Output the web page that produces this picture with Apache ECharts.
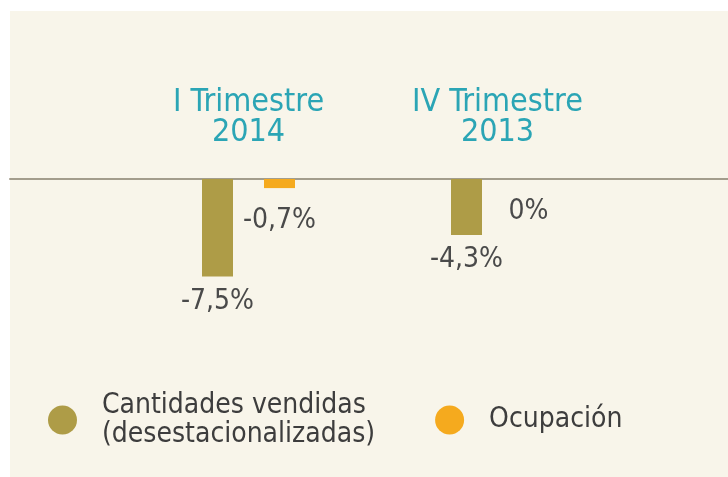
<!DOCTYPE html>
<html>
<head>
<meta charset="utf-8">
<script src="https://cdn.jsdelivr.net/npm/echarts@6/dist/echarts.min.js"></script>
<style>
	html, body { margin: 0; padding: 0; background: #ffffff; }
	#panel { position: absolute; left: 10px; top: 11px; right: 0; bottom: 0; background: #f8f5ea; }
	#chart { position: absolute; left: 0; top: 0; width: 728px; height: 477px; }
</style>
</head>
<body>
<div id="panel"></div>
<div id="chart"></div>
<script>
const periods = ['I Trimestre\n2014', 'IV Trimestre\n2013'];
const seriesNames = ['Cantidades vendidas (desestacionalizadas)', 'Ocupación'];
const cantidades = [-7.5, -4.3];
const ocupacion = [-0.7, 0];

const FONT = "'DejaVu Sans Condensed', 'Liberation Sans Narrow', 'Roboto', sans-serif";

function formatPct(v) {
	if (v === 0) return '0%';
	return v.toFixed(1).replace('.', ',') + '%';
}

function renderChart(chartId) {
	const chart = echarts.init(document.getElementById(chartId), null, { renderer: 'canvas' });

	const labelStyle = {
		show: true,
		position: 'bottom',
		fontFamily: FONT,
		fontSize: 28,
		color: '#4a4a4a',
		formatter: (p) => formatPct(p.value)
	};

	chart.setOption({
		backgroundColor: 'transparent',
		animation: false,
		textStyle: { fontFamily: FONT },
		grid: [
			{ left: 124, right: 106, top: 179, height: 104 },
			// full-width baseline along the panel
			{ left: 10, right: 0, top: 179, height: 1 }
		],
		legend: {
			left: 43,
			top: 386,
			icon: 'circle',
			itemWidth: 29,
			itemHeight: 29,
			itemGap: 60,
			formatter: (name) => name.replace(' (', '\n('),
			textStyle: {
				fontFamily: FONT,
				fontSize: 28,
				lineHeight: 29,
				color: '#3d3d3d',
				padding: [0, 0, 0, 20]
			}
		},
		xAxis: [
			{
				type: 'category',
				position: 'top',
				data: periods,
				axisLine: { show: false },
				axisTick: { show: false },
				axisLabel: {
					margin: 31,
					fontFamily: FONT,
					fontSize: 32,
					lineHeight: 30,
					color: '#2ba5b5'
				},
				splitLine: { show: false }
			},
			{
				type: 'value',
				gridIndex: 1,
				position: 'top',
				axisLine: { show: true, onZero: false, lineStyle: { color: '#a39d8c', width: 2 } },
				axisTick: { show: false },
				axisLabel: { show: false },
				splitLine: { show: false }
			}
		],
		yAxis: [
			{
				type: 'value',
				min: -8,
				max: 0,
				show: false,
				splitLine: { show: false }
			},
			{
				type: 'value',
				gridIndex: 1,
				show: false
			}
		],
		series: [
			{
				name: seriesNames[0],
				type: 'bar',
				data: cantidades,
				barWidth: 31,
				barGap: '100%',
				itemStyle: { color: '#ae9c47' },
				label: Object.assign({}, labelStyle, { distance: 11 })
			},
			{
				name: seriesNames[1],
				type: 'bar',
				data: ocupacion,
				barWidth: 31,
				itemStyle: { color: '#f5aa1e' },
				label: Object.assign({}, labelStyle, { distance: 19 })
			}
		]
	});

	window.addEventListener('resize', () => chart.resize());
}

document.addEventListener('DOMContentLoaded', function () {
	renderChart('chart');
});
</script>
</body>
</html>
